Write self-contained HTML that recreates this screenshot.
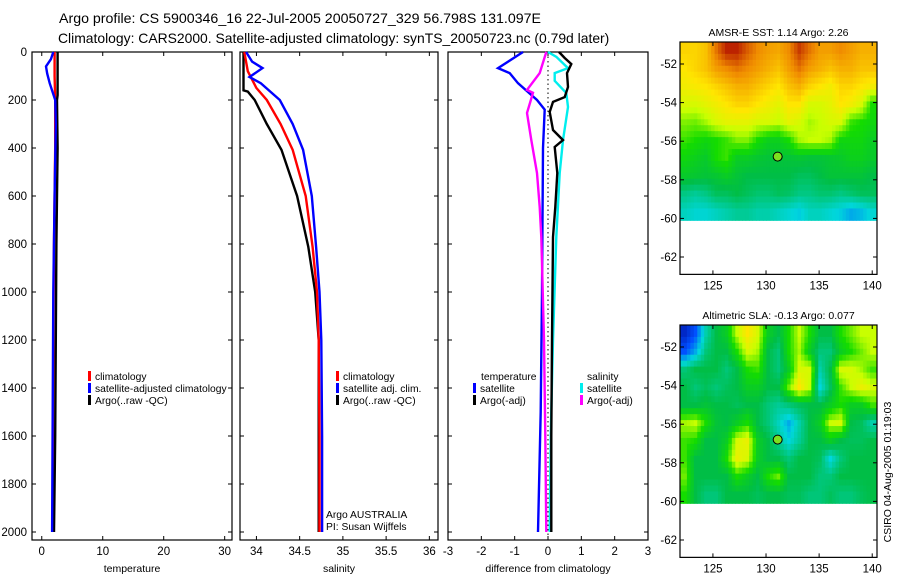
<!DOCTYPE html>
<html><head><meta charset="utf-8">
<style>
html,body{margin:0;padding:0;background:#fff;}
svg{display:block;font-family:"Liberation Sans",sans-serif;}
</style></head>
<body>
<svg id="s" width="900" height="580">
<text x="59" y="23" font-size="14.2">Argo profile: CS 5900346_16 22-Jul-2005 20050727_329 56.798S 131.097E</text>
<text x="58" y="43" font-size="13.9">Climatology: CARS2000. Satellite-adjusted climatology: synTS_20050723.nc (0.79d later)</text>
</svg>
<script>
const tClimDepth=[0,100,200,400,800,1200,1600,2000];
const tClim=[2.1,2.1,2.2,2.2,2.0,1.9,1.85,1.8];
const tSatDepth=[0,30,60,90,130,200,300,600,1000,1500,2000];
const tSat=[1.9,1.5,0.7,0.9,1.3,2.2,2.3,2.1,1.9,1.8,1.7];
const tArgoDepth=[0,100,180,200,400,800,1200,1600,2000];
const tArgo=[2.6,2.6,2.6,2.5,2.6,2.4,2.3,2.2,2.0];

const sClimDepth=[0,80,150,200,300,408,600,812,1000,1200,1600,2000];
const sClim=[33.86,33.9,34.0,34.12,34.28,34.42,34.57,34.65,34.7,34.72,34.73,34.73];
const sSatDepth=[0,40,67,104,130,200,300,408,600,812,1000,1200,1600,2000];
const sSat=[33.88,33.95,34.07,33.92,34.05,34.27,34.42,34.54,34.64,34.69,34.73,34.75,34.76,34.76];
const sArgoDepth=[0,160,165,200,300,408,600,812,1000,1200,1600,2000];
const sArgo=[33.85,33.85,33.9,33.98,34.12,34.29,34.47,34.6,34.68,34.72,34.72,34.72];

const dTSatDepth=[0,67,88,130,200,240,400,1000,1500,2000];
const dTSat=[-0.75,-1.5,-1.15,-0.9,-0.33,-0.1,-0.15,-0.18,-0.22,-0.3];
const dSArgoDepth=[0,88,158,170,254,367,504,646,771,1200,1600,2000];
const dSArgo=[-0.05,-0.25,-0.63,-0.45,-0.63,-0.5,-0.33,-0.25,-0.2,-0.12,-0.08,-0.05];
const dSSatDepth=[0,20,67,88,120,171,229,367,504,771,1200,1600,2000];
const dSSat=[0,0.25,0.6,0.2,0.2,0.55,0.6,0.45,0.35,0.25,0.15,0.08,0.05];
const dTArgoDepth=[0,25,50,88,146,188,208,250,325,367,396,504,646,771,1200,1600,2000];
const dTArgo=[0.33,0.5,0.7,0.57,0.6,0.5,0.15,0.05,0.15,0.45,0.2,0.28,0.22,0.15,0.12,0.1,0.1];

const depthTicks=[0,200,400,600,800,1000,1200,1400,1600,1800,2000];
const tTicks=[0,10,20,30];
const sTicks=[34,34.5,35,35.5,36];
const sTickLabels=["34","34.5","35","35.5","36"];
const dTicks=[-3,-2,-1,0,1,2,3];
const lonTicks=[125,130,135,140];
const latTicks=[-52,-54,-56,-58,-60,-62];

const sstGrid=[
[0.8,0.8,0.82,0.9,0.97,0.97,0.92,0.88,0.86,0.85,0.88,0.95,0.9,0.86,0.86,0.88,0.86,0.84,0.84],
[0.78,0.8,0.82,0.86,0.88,0.9,0.88,0.86,0.84,0.82,0.86,0.9,0.86,0.84,0.82,0.84,0.84,0.82,0.82],
[0.76,0.77,0.78,0.8,0.82,0.84,0.84,0.82,0.8,0.78,0.82,0.84,0.8,0.78,0.76,0.8,0.8,0.78,0.76],
[0.72,0.72,0.74,0.76,0.78,0.8,0.8,0.78,0.76,0.74,0.78,0.78,0.72,0.72,0.74,0.78,0.76,0.72,0.6],
[0.66,0.65,0.68,0.72,0.74,0.74,0.74,0.72,0.72,0.7,0.74,0.72,0.68,0.7,0.72,0.72,0.62,0.6,0.58],
[0.62,0.6,0.58,0.6,0.62,0.66,0.66,0.6,0.56,0.56,0.6,0.68,0.7,0.7,0.68,0.58,0.58,0.58,0.55],
[0.58,0.56,0.54,0.6,0.62,0.55,0.55,0.53,0.52,0.52,0.52,0.53,0.52,0.52,0.53,0.54,0.56,0.56,0.54],
[0.54,0.53,0.52,0.53,0.55,0.52,0.5,0.5,0.5,0.5,0.5,0.48,0.48,0.5,0.52,0.52,0.52,0.52,0.5],
[0.44,0.42,0.44,0.48,0.48,0.5,0.48,0.46,0.46,0.48,0.47,0.44,0.44,0.46,0.46,0.44,0.46,0.48,0.48],
[0.38,0.36,0.36,0.38,0.4,0.42,0.42,0.4,0.4,0.38,0.36,0.34,0.38,0.38,0.36,0.34,0.3,0.32,0.36]];
const slaGrid=[
[0.1,0.2,0.4,0.5,0.55,0.7,0.78,0.72,0.55,0.5,0.6,0.7,0.6,0.5,0.5,0.6,0.65,0.7,0.7],
[0.2,0.3,0.45,0.5,0.5,0.6,0.72,0.68,0.5,0.45,0.6,0.68,0.55,0.45,0.45,0.55,0.6,0.65,0.7],
[0.45,0.5,0.5,0.5,0.45,0.5,0.6,0.62,0.5,0.45,0.55,0.72,0.72,0.4,0.5,0.72,0.72,0.68,0.62],
[0.5,0.45,0.48,0.45,0.48,0.5,0.55,0.55,0.5,0.5,0.65,0.78,0.7,0.35,0.48,0.62,0.7,0.75,0.72],
[0.5,0.5,0.52,0.5,0.5,0.48,0.5,0.5,0.45,0.42,0.45,0.48,0.5,0.5,0.55,0.6,0.55,0.55,0.62],
[0.68,0.7,0.6,0.52,0.5,0.55,0.6,0.5,0.45,0.38,0.3,0.4,0.5,0.55,0.7,0.72,0.5,0.48,0.4],
[0.62,0.6,0.5,0.5,0.55,0.72,0.75,0.55,0.5,0.42,0.35,0.42,0.5,0.5,0.55,0.5,0.48,0.48,0.5],
[0.62,0.5,0.5,0.5,0.6,0.75,0.72,0.55,0.5,0.5,0.45,0.5,0.5,0.48,0.35,0.45,0.5,0.5,0.5],
[0.65,0.5,0.5,0.5,0.5,0.6,0.55,0.5,0.6,0.65,0.5,0.5,0.5,0.45,0.45,0.5,0.5,0.5,0.5],
[0.6,0.5,0.45,0.45,0.5,0.5,0.5,0.48,0.5,0.5,0.48,0.48,0.45,0.45,0.48,0.45,0.45,0.48,0.5]];
const argoLon=131.097, argoLat=-56.798;

const NS="http://www.w3.org/2000/svg";
const svg=document.getElementById('s');
function mk(tag,attrs,parent){const e=document.createElementNS(NS,tag);for(const k in attrs)e.setAttribute(k,attrs[k]);(parent||svg).appendChild(e);return e;}

const pTop=52,pBot=540;
const yD=d=>pTop+d*0.24;
function panel(name,x0,x1,v0,v1){return {name,x0,x1,v0,v1,x:v=>x0+(v-v0)/(v1-v0)*(x1-x0)};}
const P1=panel('temperature',32,232,-1.6,31.2);
const P2=panel('salinity',240,438,33.81,36.1);
const P3=panel('difference',448,648,-3,3);

function frame(P,ticks,labels,title,showY){
  const g=mk('g',{});
  
  
  const r=mk('rect',{x:P.x0,y:pTop,width:P.x1-P.x0,height:pBot-pTop,fill:'none',stroke:'#000','stroke-width':1.2},g);
  
  
  depthTicks.forEach(d=>{
    const y=yD(d);
    mk('line',{x1:P.x0,x2:P.x0+4,y1:y,y2:y,stroke:'#000'},g);
    mk('line',{x1:P.x1-4,x2:P.x1,y1:y,y2:y,stroke:'#000'},g);
    if(showY){const t=mk('text',{x:P.x0-5,y:y+4,'font-size':11.5,'text-anchor':'end'},g);t.textContent=d;
      
      }
  });
  ticks.forEach((v,i)=>{
    const x=P.x(v);
    mk('line',{x1:x,x2:x,y1:pTop,y2:pTop+4,stroke:'#000'},g);
    mk('line',{x1:x,x2:x,y1:pBot-4,y2:pBot,stroke:'#000'},g);
    const t=mk('text',{x:x,y:pBot+15,'font-size':11.5,'text-anchor':'middle'},g);t.textContent=labels[i];
    
    
  });
  const tt=mk('text',{x:(P.x0+P.x1)/2,y:pBot+32,'font-size':10.5,'text-anchor':'middle'},g);tt.textContent=title;
  
  
}
frame(P1,tTicks,tTicks.map(String),'temperature',true);
frame(P2,sTicks,sTickLabels,'salinity',false);
frame(P3,dTicks,dTicks.map(String),'difference from climatology',false);
const z=mk('line',{x1:P3.x(0),x2:P3.x(0),y1:pTop,y2:pBot,stroke:'#000','stroke-dasharray':'1.5,3'});



function series(P,depths,vals,color,name){
  const pts=depths.map((d,i)=>P.x(vals[i]).toFixed(1)+','+yD(d).toFixed(1)).join(' ');
  const e=mk('polyline',{points:pts,fill:'none',stroke:color,'stroke-width':2.4,'stroke-linejoin':'miter'});
  
  
}
series(P1,tClimDepth,tClim,'#f00','temp-climatology-line');
series(P1,tArgoDepth,tArgo,'#000','temp-argo-line');
series(P1,tSatDepth,tSat,'#00f','temp-satellite-line');
series(P2,sArgoDepth,sArgo,'#000','sal-argo-line');
series(P2,sClimDepth,sClim,'#f00','sal-climatology-line');
series(P2,sSatDepth,sSat,'#00f','sal-satellite-line');
series(P3,dTSatDepth,dTSat,'#00f','diff-temp-satellite-line');
series(P3,dSArgoDepth,dSArgo,'#f0f','diff-sal-argo-line');
series(P3,dSSatDepth,dSSat,'#0ee','diff-sal-satellite-line');
series(P3,dTArgoDepth,dTArgo,'#000','diff-temp-argo-line');

function legend(x,y,color,label,name){
  const g=mk('g',{});
  
  
  if(color) mk('rect',{x:x,y:y-9,width:3,height:10,fill:color},g);
  const t=mk('text',{x:x+7,y:y,'font-size':10.3},g);t.textContent=label;
}
legend(88,380,'#f00','climatology','legend-climatology');
legend(88,392,'#00f','satellite-adjusted climatology','legend-satellite');
legend(88,404,'#000','Argo(..raw -QC)','legend-argo');
legend(336,380,'#f00','climatology','legend-sal-climatology');
legend(336,392,'#00f','satellite adj. clim.','legend-sal-satellite');
legend(336,404,'#000','Argo(..raw -QC)','legend-sal-argo');
legend(474,380,null,'temperature','legend-temp-heading');
legend(473,392,'#00f','satellite','legend-diff-temp-sat');
legend(473,404,'#000','Argo(-adj)','legend-diff-temp-argo');
legend(580,380,null,'salinity','legend-sal-heading');
legend(580,392,'#0ee','satellite','legend-diff-sal-sat');
legend(580,404,'#f0f','Argo(-adj)','legend-diff-sal-argo');
const a1=mk('text',{x:326,y:518,'font-size':10.3});a1.textContent='Argo AUSTRALIA';


const a2=mk('text',{x:326,y:530,'font-size':10.3});a2.textContent='PI: Susan Wijffels';



const stops=[[0,[0,0,140]],[0.2,[0,80,255]],[0.35,[0,215,220]],[0.5,[0,190,70]],[0.6,[20,220,0]],[0.7,[200,255,0]],[0.78,[255,230,0]],[0.88,[240,140,0]],[1,[170,0,0]]];
function cmap(v){v=Math.max(0,Math.min(1,v));for(let i=1;i<stops.length;i++){if(v<=stops[i][0]){const a=stops[i-1],b=stops[i],f=(v-a[0])/(b[0]-a[0]);return 'rgb('+a[1].map((c,k)=>Math.round(c+(b[1][k]-c)*f)).join(',')+')';}}return 'rgb(170,0,0)';}
function sample(grid,fi,fj){
  const R=grid.length,C=grid[0].length;
  fi=Math.max(0,Math.min(R-1,fi));fj=Math.max(0,Math.min(C-1,fj));
  const i0=Math.floor(fi),j0=Math.floor(fj),i1=Math.min(R-1,i0+1),j1=Math.min(C-1,j0+1),a=fi-i0,b=fj-j0;
  return grid[i0][j0]*(1-a)*(1-b)+grid[i0][j1]*(1-a)*b+grid[i1][j0]*a*(1-b)+grid[i1][j1]*a*b;
}
const lon0=121.9,lon1=140.45,dataLatTop=-50.86,dataLatBot=-60.1,axLatBot=-62.9;
function map(name,top,grid,title){
  const x0=680,x1=877,ppd=19.3;
  const X=lon=>x0+(lon-lon0)/(lon1-lon0)*(x1-x0);
  const Y=lat=>top+(dataLatTop-lat)*ppd;
  const g=mk('g',{});
  
  
  const rows=grid.length,cols=grid[0].length,sub=3;
  const R=rows*sub,C=cols*sub;
  const dLat=(dataLatTop-dataLatBot)/R,dLon=(lon1-lon0)/C;
  for(let i=0;i<R;i++)for(let j=0;j<C;j++){
    const v=sample(grid,(i+0.5)/sub-0.5,(j+0.5)/sub-0.5);
    const xa=X(lon0+j*dLon),xb=X(lon0+(j+1)*dLon),ya=Y(dataLatTop-i*dLat),yb=Y(dataLatTop-(i+1)*dLat);
    const c=mk('rect',{x:xa.toFixed(2),y:ya.toFixed(2),width:(xb-xa+0.5).toFixed(2),height:(yb-ya+0.5).toFixed(2),fill:cmap(v)},g);
    
    
  }
  const yb=Y(axLatBot);
  mk('rect',{x:x0,y:top,width:x1-x0,height:yb-top,fill:'none',stroke:'#000','stroke-width':1.2},g);
  lonTicks.forEach(l=>{const x=X(l);
    mk('line',{x1:x,x2:x,y1:top,y2:top+4,stroke:'#000'},g);
    mk('line',{x1:x,x2:x,y1:yb-4,y2:yb,stroke:'#000'},g);
    const t=mk('text',{x:x,y:yb+15,'font-size':11.5,'text-anchor':'middle'},g);t.textContent=l;
    
    });
  latTicks.forEach(l=>{const y=Y(l);
    mk('line',{x1:x0,x2:x0+4,y1:y,y2:y,stroke:'#000'},g);
    mk('line',{x1:x1-4,x2:x1,y1:y,y2:y,stroke:'#000'},g);
    const t=mk('text',{x:x0-3,y:y+4,'font-size':11.5,'text-anchor':'end'},g);t.textContent=l;
    
    });
  const m=mk('circle',{cx:X(argoLon),cy:Y(argoLat),r:4.5,fill:'#7de01e',stroke:'#000','stroke-width':1},g);
  
  
  const t=mk('text',{x:(x0+x1)/2,y:top-6,'font-size':10.5,'text-anchor':'middle'},g);t.textContent=title;
  
  
}
map('sst',42,sstGrid,'AMSR-E SST: 1.14 Argo: 2.26');
map('sla',325,slaGrid,'Altimetric SLA: -0.13 Argo: 0.077');
const cs=mk('text',{x:0,y:0,'font-size':10.5,'text-anchor':'middle',transform:'translate(891,472) rotate(-90)'});
cs.textContent='CSIRO 04-Aug-2005 01:19:03';


</script>
</body></html>
